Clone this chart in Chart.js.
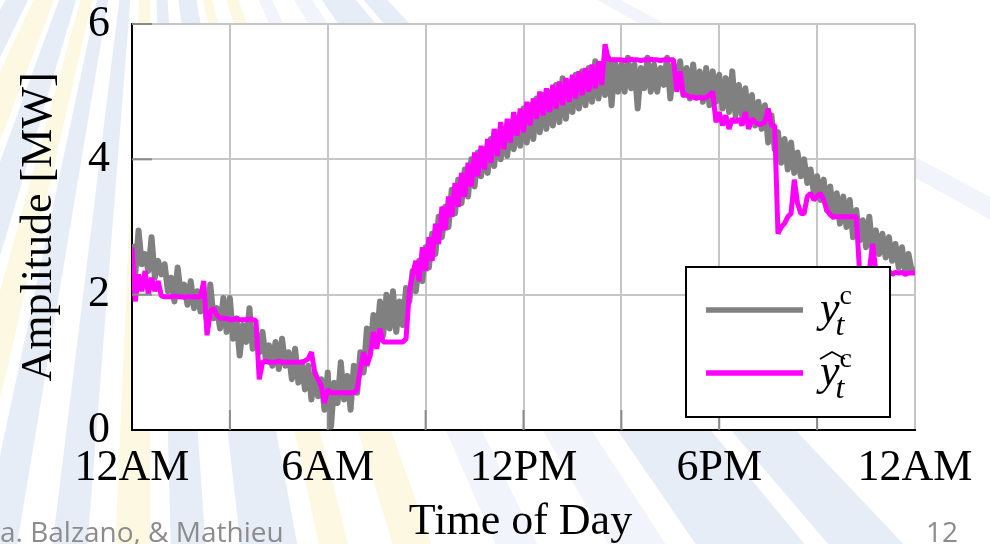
<!DOCTYPE html>
<html>
<head>
<meta charset="utf-8">
<script src="https://cdn.jsdelivr.net/npm/chart.js@4"></script>
<style>
  html, body { margin: 0; padding: 0; background: #fff; overflow: hidden; }
  #wrap { width: 990px; height: 544px; position: relative; }
</style>
</head>
<body>
<div id="wrap"><canvas id="chart" width="990" height="544"></canvas></div>
<script>
// Sampling interval of both series, in hours (one value every 6 minutes, 0h..24h)
const STEP_H = 0.1;

// Measured aggregate load y_t^c [MW]
const measuredLoad = [
  2.75, 2.3, 2.95, 2.45, 2.6, 2.35, 2.85, 2.25, 2.5, 2.3,
  2.45, 2.05, 2.25, 1.9, 2.4, 2.0, 2.15, 1.85, 2.2, 1.8,
  2.05, 1.75, 1.95, 1.6, 2.15, 1.65, 1.8, 1.5, 1.95, 1.45,
  1.95, 1.35, 1.65, 1.1, 1.55, 1.3, 1.8, 1.2, 1.45, 1.15,
  1.45, 1.05, 1.25, 0.95, 1.3, 0.9, 1.35, 0.95, 1.15, 0.75,
  1.2, 0.7, 1.0, 0.6, 0.95, 0.45, 0.85, 0.5, 0.75, 0.3,
  0.85, 0.05, 0.7, 0.4, 1.0, 0.45, 0.8, 0.3, 0.95, 0.55,
  1.15, 0.85, 1.5, 1.15, 1.7, 1.3, 1.9, 1.4, 2.0, 1.5,
  2.05, 1.45, 1.9, 1.55, 2.1, 1.9, 2.35, 2.05, 2.5, 2.2,
  2.7, 2.4, 2.9, 2.6, 3.15, 2.85, 3.3, 3.0, 3.55, 3.2,
  3.7, 3.35, 3.85, 3.45, 4.0, 3.6, 4.1, 3.75, 4.15, 3.8,
  4.3, 3.9, 4.4, 4.0, 4.45, 4.05, 4.55, 4.15, 4.6, 4.2,
  4.75, 4.25, 4.8, 4.3, 4.9, 4.4, 4.95, 4.45, 5.0, 4.5,
  5.1, 4.55, 5.2, 4.6, 5.15, 4.7, 5.25, 4.75, 5.3, 4.8,
  5.35, 4.85, 5.45, 4.9, 5.4, 4.95, 5.5, 4.8, 5.45, 5.0,
  5.4, 5.0, 5.5, 5.05, 5.4, 4.75, 5.35, 5.05, 5.5, 5.0,
  5.4, 5.0, 5.35, 5.1, 5.5, 4.9, 5.4, 5.05, 5.45, 4.95,
  5.35, 4.9, 5.4, 4.95, 5.3, 4.85, 5.35, 4.8, 5.3, 4.85,
  5.25, 4.75, 5.2, 4.7, 5.3, 4.65, 5.1, 4.65, 5.05, 4.55,
  4.95, 4.5, 4.85, 4.45, 4.8, 4.25, 4.65, 4.15, 4.4, 3.95,
  4.3, 3.85, 4.25, 3.8, 4.1, 3.75, 4.0, 3.65, 3.85, 3.5,
  3.75, 3.4, 3.7, 3.25, 3.6, 3.15, 3.5, 3.05, 3.45, 3.0,
  3.4, 2.85, 3.25, 2.8, 3.1, 2.7, 3.15, 2.65, 2.95, 2.6,
  2.9, 2.55, 2.85, 2.5, 2.75, 2.4, 2.7, 2.35, 2.6, 2.35,
  2.4
];

// Estimated aggregate load \hat{y}_t^c [MW]
const estimatedLoad = [
  2.7, 1.9, 2.3, 2.05, 2.35, 2.0, 2.25, 2.05, 2.2, 1.98,
  1.97, 1.97, 1.97, 1.98, 1.97, 1.97, 1.96, 1.97, 1.97, 1.97,
  1.97, 1.97, 2.2, 1.4, 1.75, 1.8, 1.7, 1.65, 1.65, 1.65,
  1.63, 1.63, 1.65, 1.63, 1.63, 1.63, 1.64, 1.63, 1.62, 0.75,
  1.0, 1.02, 1.0, 1.0, 1.0, 1.02, 1.0, 1.0, 1.0, 1.0,
  1.0, 1.0, 1.0, 1.02, 1.05, 1.15, 0.85, 0.75, 0.65, 0.4,
  0.6, 0.55, 0.55, 0.55, 0.55, 0.55, 0.55, 0.55, 0.55, 0.6,
  0.9, 1.15, 0.95, 1.1, 1.45, 1.2, 1.5, 1.3, 1.3, 1.3,
  1.3, 1.3, 1.3, 1.3, 1.35, 2.05, 2.3, 2.5, 2.2, 2.7,
  2.35, 2.85, 2.5, 3.05, 2.75, 3.3, 2.95, 3.45, 3.15, 3.65,
  3.3, 3.8, 3.45, 3.95, 3.6, 4.1, 3.75, 4.2, 3.85, 4.3,
  3.95, 4.45, 4.05, 4.55, 4.15, 4.6, 4.25, 4.7, 4.35, 4.75,
  4.4, 4.85, 4.5, 4.9, 4.6, 5.0, 4.65, 5.05, 4.7, 5.1,
  4.75, 5.15, 4.8, 5.2, 4.85, 5.25, 4.9, 5.3, 4.95, 5.35,
  5.0, 5.4, 5.05, 5.45, 5.1, 5.7, 5.47, 5.47, 5.47, 5.47,
  5.47, 5.46, 5.47, 5.48, 5.47, 5.47, 5.46, 5.47, 5.47, 5.48,
  5.47, 5.47, 5.46, 5.47, 5.47, 5.47, 5.47, 5.0, 5.3, 4.95,
  4.95, 4.92, 4.92, 4.9, 4.92, 4.9, 4.92, 4.95, 5.0, 4.55,
  4.7, 4.5, 4.65, 4.45, 4.6, 4.55, 4.6, 4.5, 4.7, 4.45,
  4.6, 4.55, 4.52, 4.52, 4.55, 4.75, 4.5, 4.5, 2.9, 3.0,
  3.05, 3.15, 3.2, 3.7, 3.35, 3.2, 3.2, 3.45, 3.5, 3.4,
  3.45, 3.5, 3.4, 3.25, 3.18, 3.15, 3.15, 3.15, 3.15, 3.15,
  3.15, 3.15, 3.15, 2.35, 2.35, 2.35, 2.35, 2.75, 2.35, 2.33,
  2.33, 2.32, 2.35, 2.3, 2.33, 2.32, 2.33, 2.3, 2.32, 2.32,
  2.32
];

// Axis ticks
const xTickHours = [0, 6, 12, 18, 24];
const xTickLabels = ['12AM', '6AM', '12PM', '6PM', '12AM'];
const xGridHours = [0, 3, 6, 9, 12, 15, 18, 21, 24];
const yTickValues = [0, 2, 4, 6];

// Axis titles, footer
const xTitle = 'Time of Day';
const yTitle = 'Amplitude [MW]';
const footerLeft = 'a. Balzano, & Mathieu';
const footerRight = '12';

// Legend entries: base symbol with superscript / subscript
const legendEntries = [
  { base: 'y', sup: 'c', sub: 't', hat: false },
  { base: 'y', sup: 'c', sub: 't', hat: true }
];

const SERIF = "'Liberation Serif', 'DejaVu Serif', serif";
const GRAY = '#808080';
const MAGENTA = '#ff00ff';

const toPoints = vals => vals.map((v, i) => ({ x: +(i * STEP_H).toFixed(2), y: v }));

// Sunburst rays of the slide background, from a centre above the top-left corner:
// [startDeg, endDeg, colour]
const BLUE = 'rgb(230,237,247)';
const BLUE_FAINT = 'rgb(241,245,251)';
const CREAM = 'rgb(252,248,226)';
const rays = [
  [122, 132, CREAM], [116, 120, BLUE], [111, 115, CREAM], [106.5, 110, BLUE],
  [103, 105.5, CREAM], [99.5, 102, BLUE], [94.5, 97, BLUE], [90, 92.5, CREAM],
  [86, 88.5, BLUE], [79.5, 83.5, BLUE], [76, 78, CREAM], [70.5, 73, CREAM],
  [64, 66.5, BLUE_FAINT], [57, 60, BLUE_FAINT], [50.5, 55.5, BLUE],
  [46.5, 49.5, BLUE], [28, 29.2, BLUE_FAINT],
  [133, 140, BLUE], [141, 150, CREAM]
];

const decor = {
  id: 'slideDecor',
  beforeDraw(chart) {
    const { ctx, chartArea: a, width, height } = chart;
    ctx.save();
    ctx.fillStyle = '#fff';
    ctx.fillRect(0, 0, width, height);
    const cx = 150, cy = -250, R = 2000;
    for (const [a0, a1, col] of rays) {
      ctx.beginPath();
      ctx.moveTo(cx, cy);
      ctx.arc(cx, cy, R, a0 * Math.PI / 180, a1 * Math.PI / 180);
      ctx.closePath();
      ctx.fillStyle = col;
      ctx.fill();
    }
    // plot area
    ctx.fillStyle = '#fff';
    ctx.fillRect(a.left, a.top, a.right - a.left, a.bottom - a.top);
    ctx.restore();
  },
  afterDraw(chart) {
    const { ctx, chartArea: a, scales } = chart;
    ctx.save();

    // short inner tick marks
    ctx.strokeStyle = '#8a8a8a';
    ctx.lineWidth = 2;
    for (const h of xGridHours.slice(1, -1)) {
      const x = scales.x.getPixelForValue(h);
      ctx.beginPath(); ctx.moveTo(x, a.bottom); ctx.lineTo(x, a.bottom - 20); ctx.stroke();
    }
    for (const v of yTickValues.slice(1)) {
      const y = scales.y.getPixelForValue(v);
      ctx.beginPath(); ctx.moveTo(a.left, y); ctx.lineTo(a.left + 20, y); ctx.stroke();
    }

    // axis titles
    ctx.fillStyle = '#000';
    ctx.font = `44px ${SERIF}`;
    ctx.textAlign = 'center';
    ctx.textBaseline = 'alphabetic';
    ctx.fillText(xTitle, (a.left + a.right) / 2 - 3, 534);
    ctx.save();
    ctx.translate(51, (a.top + a.bottom) / 2);
    ctx.rotate(-Math.PI / 2);
    ctx.fillText(yTitle, 0, 0);
    ctx.restore();

    // legend
    const bw = 204, bh = 150;
    const bx = a.right - 25 - bw, by = a.bottom - 13 - bh;
    ctx.fillStyle = '#fff';
    ctx.fillRect(bx, by, bw, bh);
    ctx.strokeStyle = '#000';
    ctx.lineWidth = 2;
    ctx.strokeRect(bx, by, bw, bh);
    const dsets = chart.data.datasets;
    legendEntries.forEach((e, i) => {
      const ly = by + 43 + i * 63;
      ctx.strokeStyle = dsets[i].borderColor;
      ctx.lineWidth = 5.5;
      ctx.beginPath(); ctx.moveTo(bx + 20, ly); ctx.lineTo(bx + 117, ly); ctx.stroke();
      const tx = bx + 134;
      ctx.fillStyle = '#000';
      ctx.textAlign = 'left';
      ctx.font = `italic 44px ${SERIF}`;
      ctx.fillText(e.base, tx, ly + 12);
      const bwid = ctx.measureText(e.base).width;
      ctx.font = `28px ${SERIF}`;
      ctx.fillText(e.sup, tx + bwid, ly - 6);
      ctx.font = `italic 32px ${SERIF}`;
      ctx.fillText(e.sub, tx + bwid - 4, ly + 25);
      if (e.hat) {
        ctx.strokeStyle = '#000';
        ctx.lineWidth = 1.6;
        ctx.beginPath();
        ctx.moveTo(tx, ly - 14);
        ctx.lineTo(tx + 12, ly - 21);
        ctx.lineTo(tx + 25, ly - 14);
        ctx.stroke();
      }
    });

    // slide footer
    ctx.fillStyle = '#8c8c8c';
    ctx.font = `28px 'Open Sans', Lato, sans-serif`;
    ctx.textAlign = 'left';
    ctx.fillText(footerLeft, 0, 542);
    ctx.textAlign = 'right';
    ctx.fillText(footerRight, 958, 542);
    ctx.restore();
  }
};

new Chart(document.getElementById('chart').getContext('2d'), {
  type: 'line',
  data: {
    datasets: [
      {
        label: 'y_t^c',
        data: toPoints(measuredLoad),
        borderColor: GRAY,
        borderWidth: 6,
        pointRadius: 0,
        tension: 0,
        borderJoinStyle: 'round',
        order: 2
      },
      {
        label: '\u0177_t^c',
        data: toPoints(estimatedLoad),
        borderColor: MAGENTA,
        borderWidth: 5,
        pointRadius: 0,
        tension: 0,
        borderJoinStyle: 'bevel',
        order: 1
      }
    ]
  },
  options: {
    responsive: false,
    animation: false,
    events: [],
    layout: { padding: { top: 24, right: 75, bottom: 0, left: 0 } },
    plugins: { legend: { display: false }, tooltip: { enabled: false } },
    scales: {
      x: {
        type: 'linear',
        min: 0, max: 24,
        afterFit: s => { s.height = 114; s.paddingLeft = 0; s.paddingRight = 0; },
        afterBuildTicks: s => { s.ticks = xGridHours.map(v => ({ value: v })); },
        ticks: {
          autoSkip: false,
          maxRotation: 0,
          padding: 12,
          color: '#000',
          font: { family: SERIF, size: 44 },
          callback: v => { const k = xTickHours.indexOf(v); return k >= 0 ? xTickLabels[k] : ''; }
        },
        grid: { color: '#c6c6c6', lineWidth: 2, drawTicks: false },
        border: { display: true, color: '#000', width: 2 }
      },
      y: {
        type: 'linear',
        min: 0, max: 6,
        afterFit: s => { s.width = 132; s.paddingTop = 0; s.paddingBottom = 0; },
        afterBuildTicks: s => { s.ticks = yTickValues.map(v => ({ value: v })); },
        ticks: {
          padding: 22,
          color: '#000',
          font: { family: SERIF, size: 44 }
        },
        grid: { color: '#c6c6c6', lineWidth: 2, drawTicks: false },
        border: { display: true, color: '#000', width: 2 }
      }
    }
  },
  plugins: [decor]
});
</script>
</body>
</html>
